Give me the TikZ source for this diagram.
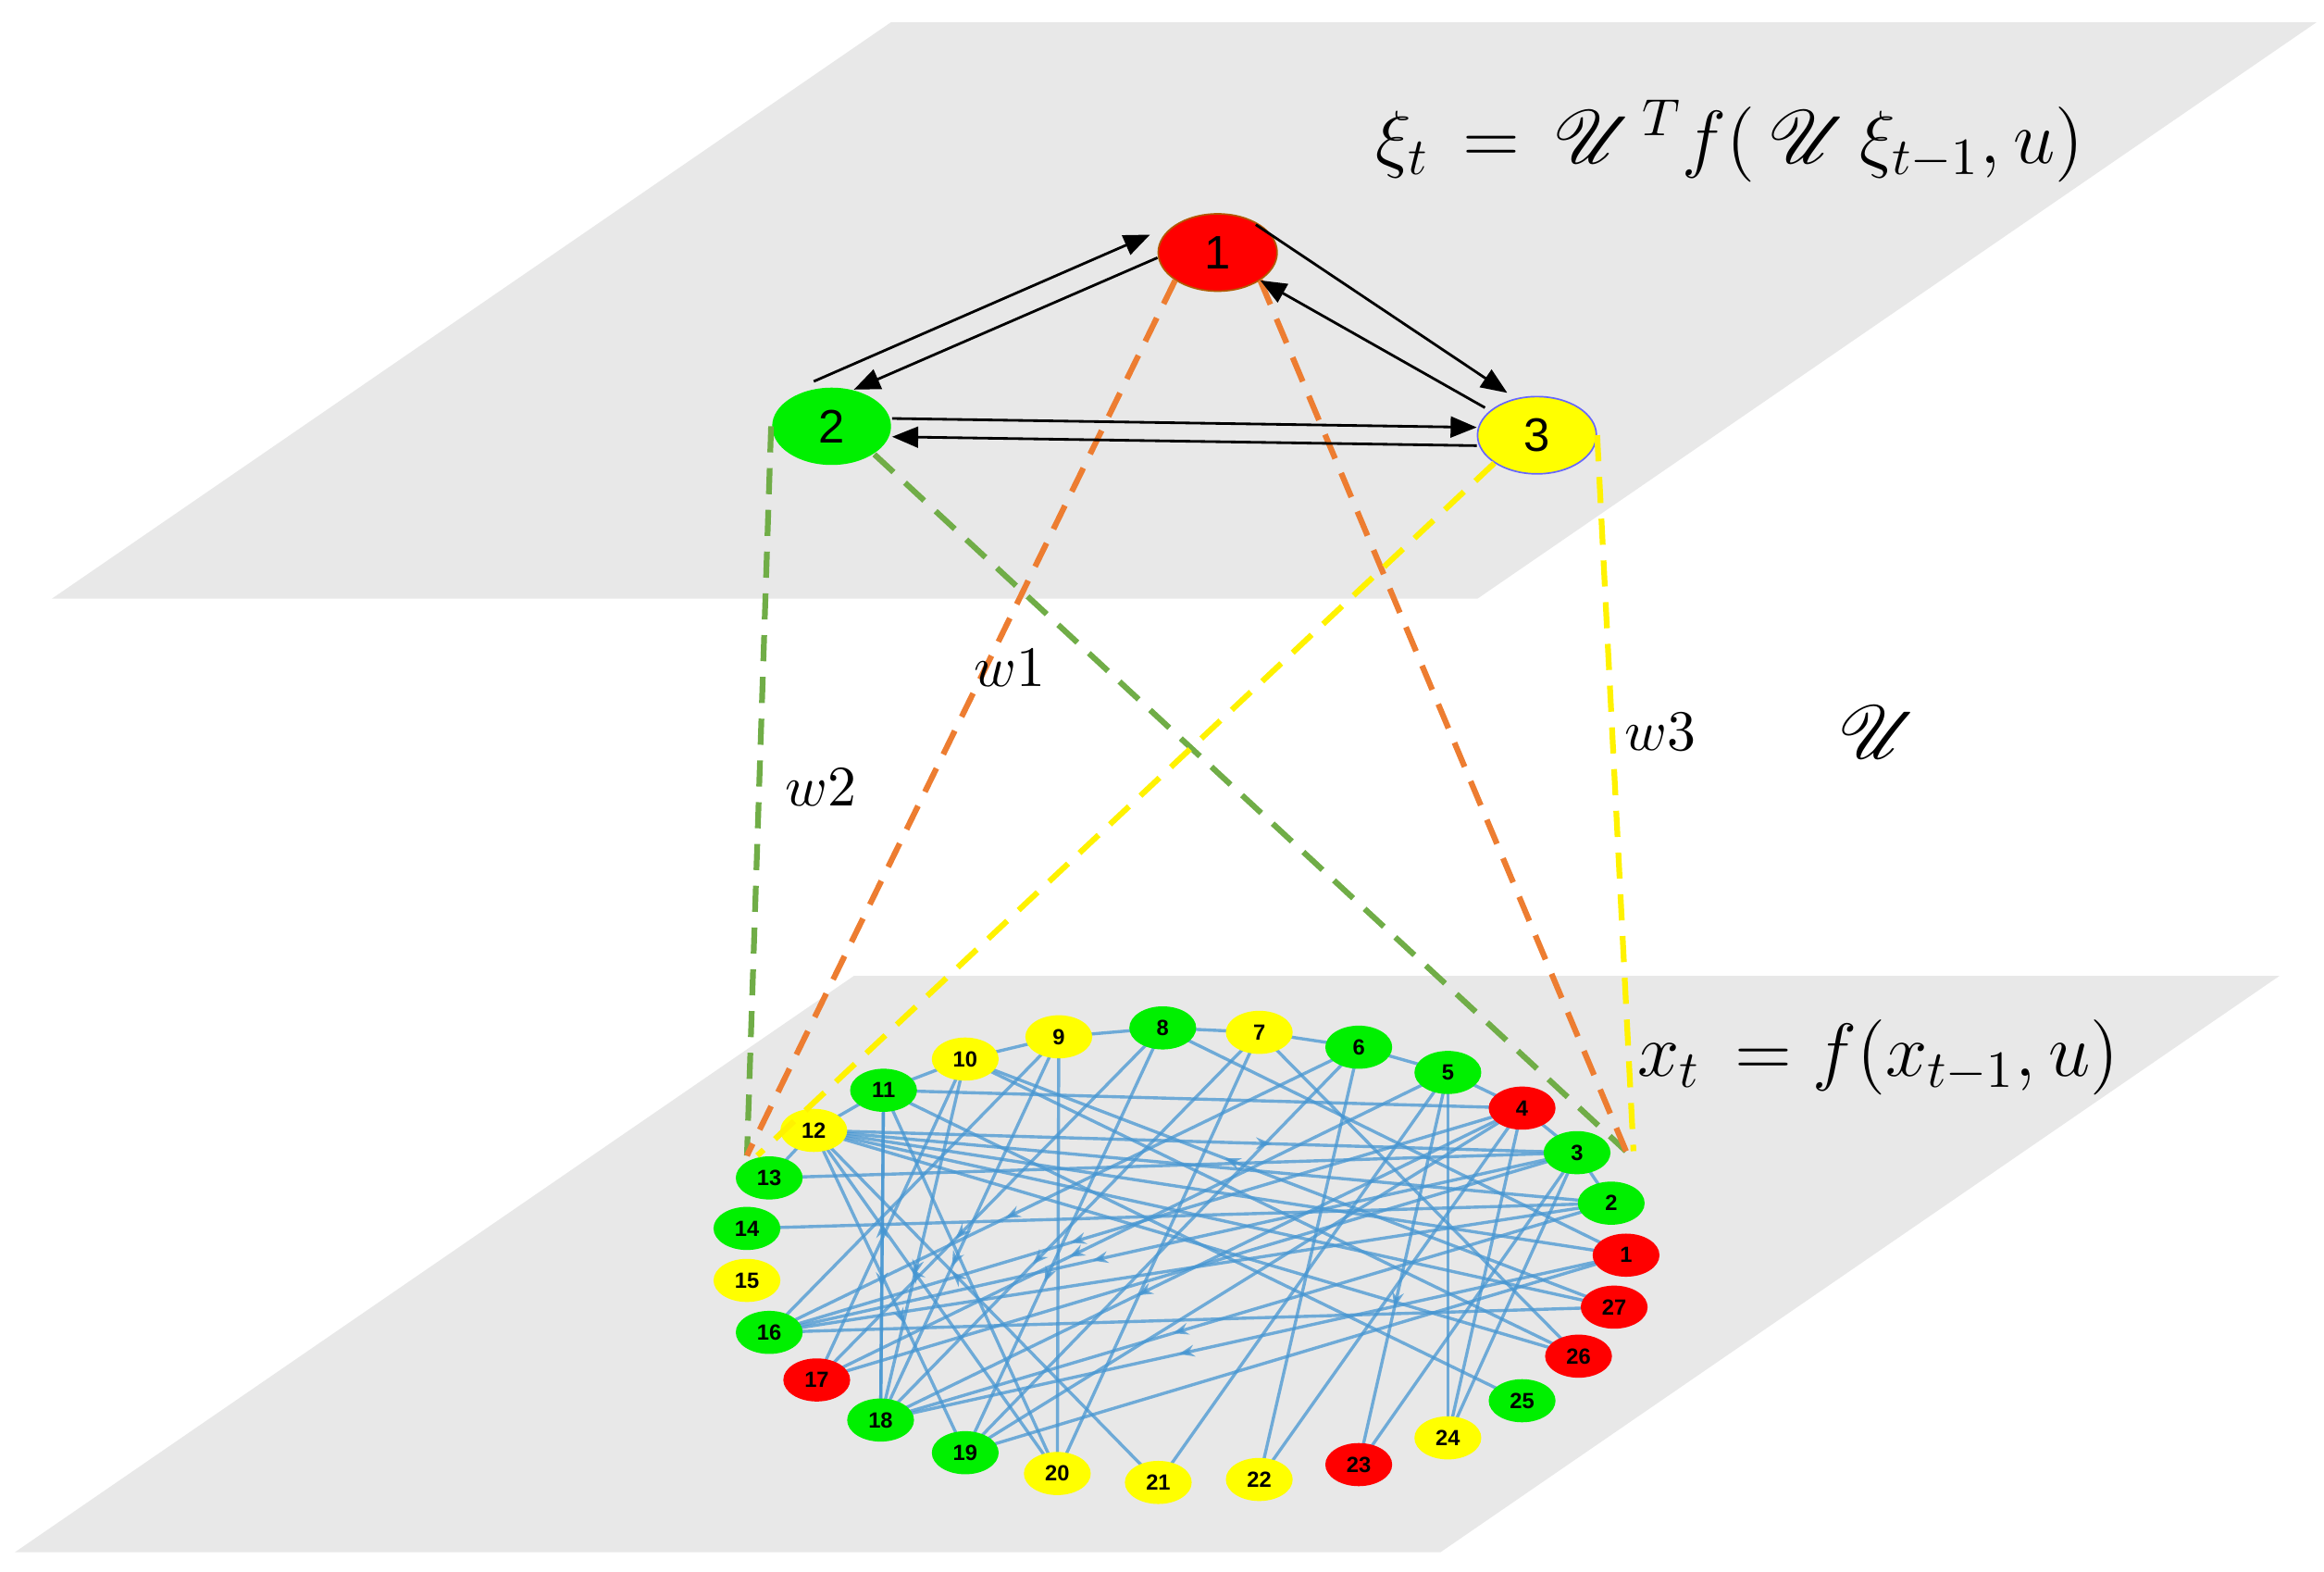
\documentclass[tikz,border=0pt]{standalone}
\usepackage{fontspec}
\usepackage{mathrsfs}
\setmainfont{Liberation Sans}
\usetikzlibrary{shapes.geometric,arrows.meta,decorations.markings}
\definecolor{plane}{RGB}{232,232,232}
\definecolor{nred}{RGB}{255,0,0}
\definecolor{ngreen}{RGB}{0,240,0}
\definecolor{nyellow}{RGB}{255,255,0}
\definecolor{eblue}{RGB}{70,150,210}
\definecolor{dgreen}{RGB}{112,173,71}
\definecolor{dorange}{RGB}{237,125,49}
\begin{document}
\begin{tikzpicture}[x=0.01cm,y=-0.01cm,
 big/.style={ellipse,minimum width=0.8cm,minimum height=0.52cm,inner sep=0pt,font=\fontsize{9}{10}\selectfont},
 sm/.style={ellipse,minimum width=0.45cm,minimum height=0.29cm,inner sep=0pt,font=\fontsize{4.2}{5}\selectfont},
 R/.style={fill=nred},G/.style={fill=ngreen},Y/.style={fill=nyellow},
 tarr/.style={-{Triangle[length=5pt,width=4pt]},line width=0.5pt},
 dsh/.style={line width=1.1pt,dash pattern=on 5pt off 3pt},
 e/.style={eblue,opacity=0.75,line width=0.6pt},
 ma/.style={e,postaction={decorate},decoration={markings,mark=at position 0.6 with {\arrow{Stealth[length=3pt]}}}}]
\useasboundingbox (0,0) rectangle (1565,1058);
\fill[plane] (35,403)--(995,403)--(1560,15)--(600,15)--cycle;
\fill[plane] (10,1045)--(970,1045)--(1535,657)--(575,657)--cycle;
% top nodes
\node[big,R,draw=orange!70!black,line width=0.3pt] (t1) at (820,170) {1};
\node[big,G] (t2) at (560,287) {2};
\node[big,Y,draw=blue!60,line width=0.3pt] (t3) at (1035,293) {3};
% bottom nodes
\foreach \n/\x/\y/\c in {1/1095/845/R,2/1085/810/G,3/1062/776/G,4/1025/746/R,5/975/722/G,6/915/705/G,7/848/695/Y,8/783/692/G,9/713/698/Y,10/650/713/Y,11/595/734/G,12/548/761/Y,13/518/793/G,14/503/827/G,15/503/862/Y,16/518/897/G,17/550/929/R,18/593/956/G,19/650/978/G,20/712/992/Y,21/780/998/Y,22/848/996/Y,23/915/986/R,24/975/968/Y,25/1025/943/G,26/1063/913/R,27/1087/880/R}
 \coordinate (p\n) at (\x,\y);
% bottom edges
\begin{scope}
\foreach \a/\b in {12/1,12/2,12/27,11/4,11/20,10/17,10/26,9/20,9/16,8/1,7/26,7/20,6/22,6/19,5/24,5/21,4/24,3/13,2/14,1/19,27/16,26/12,25/11,24/3,23/3,22/4,19/4,17/3,16/2,11/10,10/9,9/8,8/7,7/6,6/5,5/4,3/2,12/11,13/12,4/3}
 \draw[e] (p\a) -- (p\b);
\foreach \a/\b in {12/3,11/18,10/18,9/18,8/19,8/17,7/18,6/16,5/17,5/23,4/18,4/16,3/16,2/18,1/18,27/10,21/12,20/12,18/11,12/19}
 \draw[ma] (p\a) -- (p\b);
\end{scope}
\foreach \n/\x/\y/\c in {1/1095/845/R,2/1085/810/G,3/1062/776/G,4/1025/746/R,5/975/722/G,6/915/705/G,7/848/695/Y,8/783/692/G,9/713/698/Y,10/650/713/Y,11/595/734/G,12/548/761/Y,13/518/793/G,14/503/827/G,15/503/862/Y,16/518/897/G,17/550/929/R,18/593/956/G,19/650/978/G,20/712/992/Y,21/780/998/Y,22/848/996/Y,23/915/986/R,24/975/968/Y,25/1025/943/G,26/1063/913/R,27/1087/880/R}
 \node[sm,\c] (b\n) at (p\n) {\textbf{\n}};
% dashed projections
\coordinate (l) at (503,778); \coordinate (r) at (1095,775);
\draw[dsh,dgreen] (t2.west) -- (l);
\draw[dsh,dgreen] (t2.south east) -- (r);
\draw[dsh,dorange] (t1.south west) -- (l);
\draw[dsh,dorange] (t1.south east) -- (r);
\draw[dsh,yellow] (t3.south west) -- (510,778);
\draw[dsh,yellow] (t3.east) -- (1100,775);
% top arrows
\draw[tarr] ([xshift=-0.12cm,yshift=1pt]t2.north) -- ([xshift=-0.05cm,yshift=0.12cm]t1.west);
\draw[tarr] ([yshift=-1pt]t1.west) -- ([xshift=0.15cm,yshift=-0.02cm]t2.north);
\draw[tarr] ([xshift=-0.03cm]t1.north east) -- ([xshift=-0.2cm,yshift=0.02cm]t3.north);
\draw[tarr] ([xshift=-0.35cm,yshift=-0.08cm]t3.north) -- (t1.south east);
\draw[tarr] ([yshift=1.5pt]t2.east) -- ([yshift=1.5pt]t3.west);
\draw[tarr] ([yshift=-2pt]t3.west) -- ([yshift=-2pt]t2.east);
% labels
\node[font=\fontsize{14}{17}\selectfont] (f1) at (1165,95) {$\xi_t\,=\,\mathscr{U}^{\,T}f(\,\mathscr{U}\,\xi_{t-1},u)$};
\node[font=\fontsize{14}{17}\selectfont] (f2) at (1265,712) {$x_t\,=f(x_{t-1},u)$};
\node[font=\fontsize{15}{18}\selectfont] (U) at (1265,493) {$\mathscr{U}$};
\node[font=\fontsize{11}{13}\selectfont] (w1) at (680,450) {$w1$};
\node[font=\fontsize{11}{13}\selectfont] (w2) at (553,530) {$w2$};
\node[font=\fontsize{11}{13}\selectfont] (w3) at (1118,493) {$w3$};
\end{tikzpicture}
\end{document}
